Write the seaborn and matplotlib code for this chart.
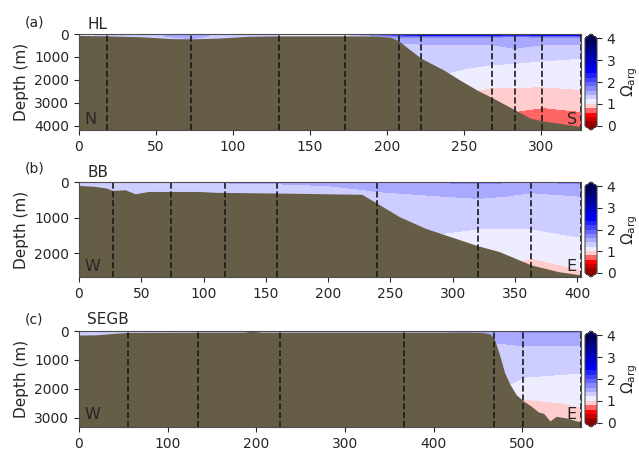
import numpy as np
import matplotlib
matplotlib.use('Agg')
import matplotlib.pyplot as plt
import matplotlib.colors as mcolors
import seaborn as sns

sns.set_theme(style='ticks')
plt.rcParams['font.family'] = ['DejaVu Sans']
plt.rcParams['axes.edgecolor'] = '0.3'
plt.rcParams['axes.linewidth'] = 0.8

# ---------------- HL section (a) ----------------
hl_stations = [0, 18, 73, 130, 173, 208, 222, 268, 283, 301, 326]
hl_depths = [0, 50, 100, 200, 400, 700, 1000, 1500, 2000, 2500, 3000, 3500, 4200]
hl_omega = [
    [1.1, 1.2, 1.4, 1.2, 1.1, 2.4, 2.6, 2.6, 2.6, 2.6, 2.7],
    [1.1, 1.25, 1.45, 1.2, 1.1, 2.1, 2.4, 2.4, 2.3, 2.4, 2.4],
    [1.1, 1.3, 1.45, 1.2, 1.1, 1.7, 1.75, 1.75, 1.6, 1.75, 1.75],
    [1.1, 1.3, 1.4, 1.2, 1.15, 1.5, 1.5, 1.5, 1.5, 1.5, 1.5],
    [1.1, 1.3, 1.4, 1.25, 1.2, 1.4, 1.41, 1.42, 1.46, 1.42, 1.42],
    [1.1, 1.3, 1.35, 1.25, 1.25, 1.35, 1.33, 1.32, 1.38, 1.32, 1.3],
    [1.1, 1.3, 1.3, 1.25, 1.25, 1.3, 1.28, 1.26, 1.25, 1.23, 1.21],
    [1.1, 1.3, 1.3, 1.25, 1.25, 1.26, 1.25, 1.17, 1.16, 1.14, 1.12],
    [1.1, 1.3, 1.3, 1.25, 1.25, 1.22, 1.2, 1.08, 1.07, 1.06, 1.05],
    [1.1, 1.3, 1.3, 1.25, 1.25, 1.15, 1.1, 0.96, 0.96, 0.96, 0.99],
    [1.1, 1.3, 1.3, 1.25, 1.25, 1.1, 1.0, 0.9, 0.86, 0.84, 0.86],
    [1.1, 1.3, 1.3, 1.25, 1.25, 1.0, 0.9, 0.82, 0.78, 0.74, 0.78],
    [1.1, 1.3, 1.3, 1.25, 1.25, 1.0, 0.9, 0.8, 0.75, 0.7, 0.74],
]
hl_bottom_x = [0, 18, 40, 60, 73, 90, 110, 130, 173, 195, 203, 208, 222, 237, 247, 259, 268, 283, 293, 300, 326]
hl_bottom_z = [60, 80, 120, 200, 210, 180, 100, 80, 80, 90, 150, 320, 1050, 1570, 1990, 2460, 2760, 3300, 3660, 3770, 4030]

# ---------------- BB section (b) ----------------
bb_stations = [0, 27, 74, 117, 159, 239, 320, 363, 403]
bb_depths = [0, 50, 100, 200, 400, 700, 1000, 1500, 2000, 2500, 2700]
bb_omega = [
    [1.3, 1.3, 1.3, 1.45, 1.45, 1.5, 1.75, 1.6, 1.7],
    [1.3, 1.3, 1.3, 1.35, 1.4, 1.48, 1.6, 1.5, 1.6],
    [1.3, 1.3, 1.3, 1.3, 1.35, 1.45, 1.5, 1.45, 1.5],
    [1.3, 1.3, 1.3, 1.3, 1.3, 1.42, 1.45, 1.42, 1.45],
    [1.3, 1.3, 1.3, 1.3, 1.3, 1.36, 1.42, 1.38, 1.4],
    [1.3, 1.3, 1.3, 1.3, 1.3, 1.3, 1.32, 1.3, 1.3],
    [1.3, 1.3, 1.3, 1.3, 1.3, 1.26, 1.27, 1.25, 1.25],
    [1.3, 1.3, 1.3, 1.3, 1.3, 1.24, 1.16, 1.17, 1.21],
    [1.3, 1.3, 1.3, 1.3, 1.3, 1.2, 1.08, 1.02, 1.1],
    [1.3, 1.3, 1.3, 1.3, 1.3, 1.15, 1.0, 0.95, 0.99],
    [1.3, 1.3, 1.3, 1.3, 1.3, 1.1, 0.98, 0.93, 0.97],
]
bb_bottom_x = [0, 13, 22, 27, 37, 45, 56, 96, 110, 160, 227, 239, 257, 278, 320, 337, 363, 385, 403]
bb_bottom_z = [95, 124, 170, 236, 217, 330, 265, 265, 290, 310, 345, 590, 970, 1300, 1790, 1950, 2330, 2520, 2610]

# ---------------- SEGB section (c) ----------------
segb_stations = [0, 55, 134, 227, 367, 468, 501, 566]
segb_depths = [0, 50, 100, 200, 400, 700, 1000, 1500, 2000, 2500, 3000, 3400]
segb_omega = [
    [1.3, 1.25, 1.25, 1.25, 1.3, 1.45, 1.7, 1.7],
    [1.3, 1.25, 1.25, 1.25, 1.3, 1.5, 1.6, 1.6],
    [1.3, 1.25, 1.25, 1.25, 1.3, 1.47, 1.5, 1.5],
    [1.3, 1.25, 1.25, 1.25, 1.3, 1.43, 1.46, 1.46],
    [1.3, 1.25, 1.25, 1.25, 1.3, 1.4, 1.43, 1.43],
    [1.3, 1.25, 1.25, 1.25, 1.3, 1.36, 1.35, 1.35],
    [1.3, 1.25, 1.25, 1.25, 1.3, 1.32, 1.3, 1.29],
    [1.3, 1.25, 1.25, 1.25, 1.3, 1.27, 1.22, 1.19],
    [1.3, 1.25, 1.25, 1.25, 1.3, 1.23, 1.12, 1.1],
    [1.3, 1.25, 1.25, 1.25, 1.3, 1.15, 0.95, 1.02],
    [1.3, 1.25, 1.25, 1.25, 1.3, 1.0, 0.9, 0.95],
    [1.3, 1.25, 1.25, 1.25, 1.3, 0.95, 0.85, 0.9],
]
segb_bottom_x = [0, 20, 40, 55, 150, 185, 195, 205, 300, 440, 455, 463, 468, 474, 480, 486, 493, 501, 510, 518, 524, 531, 538, 550, 566]
segb_bottom_z = [140, 130, 80, 50, 40, 40, 10, 40, 40, 40, 50, 100, 250, 800, 1450, 1850, 2200, 2420, 2600, 2800, 2850, 3110, 2950, 3010, 3150]

panels = [
    ('(a)', 'HL', 'N', 'S', hl_stations, hl_depths, hl_omega, hl_bottom_x, hl_bottom_z,
     326, 4180, 50, 1000),
    ('(b)', 'BB', 'W', 'E', bb_stations, bb_depths, bb_omega, bb_bottom_x, bb_bottom_z,
     403, 2670, 50, 1000),
    ('(c)', 'SEGB', 'W', 'E', segb_stations, segb_depths, segb_omega, segb_bottom_x, segb_bottom_z,
     566, 3320, 100, 1000),
]

# layout (figure fractions)
ax_rects = [(0.1236, 0.7111, 0.7856, 0.2133),
            (0.1236, 0.3844, 0.7856, 0.2111),
            (0.1236, 0.0511, 0.7856, 0.2133)]
cb_left, cb_width = 0.9155, 0.0188
letter_y = [1.118, 1.147, 1.122]
name_y = [1.10, 1.105, 1.115]
side_y = [0.11, 0.116, 0.135]

levels = np.arange(0, 4.01, 0.2)
norm = mcolors.TwoSlopeNorm(vmin=0, vcenter=1, vmax=4)
cmap = plt.get_cmap('seismic_r')
ground = '#655d45'

fig = plt.figure(figsize=(6.39, 4.5), dpi=100)

for i, (letter, name, left_lab, right_lab, st, dep, om, bx, bz, xmax, ymax, xstep, ystep) in enumerate(panels):
    ax = fig.add_axes(ax_rects[i])
    cf = ax.contourf(st, dep, np.array(om), levels=levels, cmap=cmap, norm=norm, extend='both')
    ax.fill_between(bx, bz, ymax + 500, color=ground, lw=0, zorder=3)
    for s in st:
        ax.axvline(s, color='k', ls='--', lw=1.2, zorder=4)
    ax.set_xlim(0, xmax)
    ax.set_ylim(ymax, 0)
    ax.xaxis.set_major_locator(plt.MultipleLocator(xstep))
    ax.yaxis.set_major_locator(plt.MultipleLocator(ystep))
    ax.tick_params(labelsize=10, length=3.5, width=0.8, color='0.15')
    ax.set_ylabel('Depth (m)', fontsize=11)
    for sp in ax.spines.values():
        sp.set_zorder(5)

    ax.text(-0.1076, letter_y[i], letter, transform=ax.transAxes, fontsize=10,
            ha='left', va='center')
    ax.text(0.016, name_y[i], name, transform=ax.transAxes, fontsize=11,
            ha='left', va='center')
    ax.text(0.01, side_y[i], left_lab, transform=ax.transAxes, fontsize=11.5,
            ha='left', va='center', zorder=6)
    ax.text(0.992, side_y[i], right_lab, transform=ax.transAxes, fontsize=11.5,
            ha='right', va='center', zorder=6)

    r = ax_rects[i]
    cax = fig.add_axes((cb_left, r[1], cb_width, r[3]))
    cb = fig.colorbar(cf, cax=cax, ticks=[0, 1, 2, 3, 4])
    cb.outline.set_linewidth(0.8)
    cax.tick_params(labelsize=10, length=3.5, width=0.8)
    cb.set_label(r'$\Omega_{\rm arg}$', fontsize=11, labelpad=3)

fig.savefig('out.png', dpi=100)
